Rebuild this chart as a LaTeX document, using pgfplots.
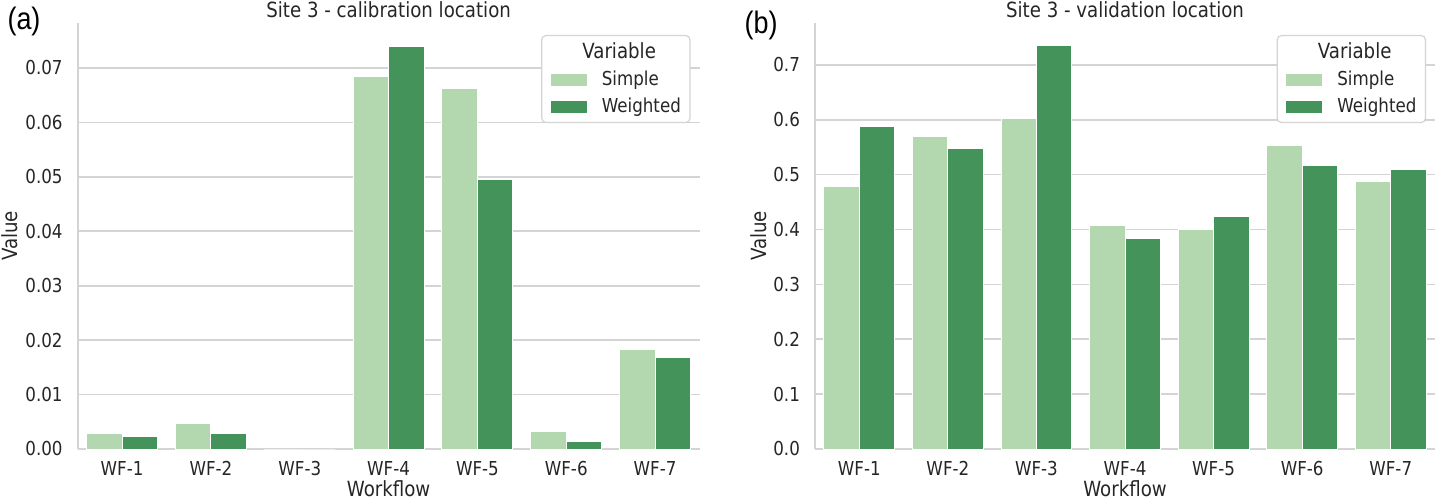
\documentclass[border=0pt]{standalone}
\usepackage{pgfplots}
\pgfplotsset{compat=1.18}
\usepackage{fontspec}
\setmainfont{DejaVu Sans}[FakeStretch=0.87]
\newfontfamily\panelfont{Liberation Sans}[FakeStretch=0.87]
\definecolor{lightg}{HTML}{B3D8B0}
\definecolor{darkg}{HTML}{43935A}
\definecolor{gridc}{HTML}{D4D4D4}
\definecolor{txt}{HTML}{262626}
\newcommand{\tfont}{\fontsize{9.6}{11.5}\selectfont}
\newcommand{\lfont}{\fontsize{10.45}{12.5}\selectfont}

\pgfplotsset{
 layers/mylayers/.define layer set={axis background,axis grid,main,axis ticks,axis lines,axis tick labels,axis descriptions,axis foreground}{},
 mystyle/.style={
  set layers=mylayers,
  scale only axis, height=213pt,
  xmin=-0.5, xmax=6.5, ymin=0,
  xtick={0,1,2,3,4,5,6},
  xticklabels={WF-1,WF-2,WF-3,WF-4,WF-5,WF-6,WF-7},
  axis x line*=bottom, axis y line*=left,
  axis line style={draw=gridc, line width=0.8pt, -},
  major tick length=0pt,
  ymajorgrids, grid style={draw=gridc, line width=0.8pt},
  tick label style={font=\tfont, text=txt},
  /pgf/number format/assume math mode=true,
  scaled y ticks=false,
  xticklabel style={anchor=base, yshift=-13pt, inner sep=0pt},
  yticklabel style={anchor=east, xshift=-7.35pt, inner sep=0pt},
  xlabel={Workflow}, ylabel={Value},
  xlabel style={at={(axis description cs:0.5,0)}, anchor=base, yshift=-23.5pt, font=\lfont, text=txt, inner sep=0pt},
  every axis title shift=0pt,
  title style={at={(axis description cs:0.5,1)}, anchor=base, yshift=2.5pt, font=\lfont, text=txt, inner sep=0pt},
  legend style={at={(axis description cs:1,1)}, anchor=north east, xshift=-4.5pt, yshift=-6pt,
    draw=gridc, line width=0.6pt, rounded corners=2pt, fill=white,
    font=\tfont, text=txt, inner xsep=4.5pt, inner ysep=3.5pt,
    row sep=4.7pt, nodes={inner sep=0pt},
    /tikz/every odd column/.append style={column sep=7.5pt}},
  legend cell align=left,
  legend image code/.code={\fill[##1, draw=none, sharp corners] (0pt,-3pt) rectangle (18pt,3pt);},
 },
 simplebar/.style={ybar, bar width=0.4, bar shift=-0.2, fill=lightg, draw=white, line width=0.5pt},
 weightbar/.style={ybar, bar width=0.4, bar shift=0.2, fill=darkg, draw=white, line width=0.5pt},
}

\begin{document}
\begin{tikzpicture}

\begin{axis}[mystyle, at={(38.85pt,25pt)}, anchor=south west, width=310.9pt,
  ymax=0.07827, ytick={0,0.01,0.02,0.03,0.04,0.05,0.06,0.07},
  yticklabel style={/pgf/number format/.cd, fixed, fixed zerofill, precision=2},
  ylabel style={at={([xshift=-34.1pt]axis description cs:0,0.5)}, anchor=center, font=\lfont, text=txt, inner sep=0pt},
  title={Site 3 - calibration location}]
\addlegendimage{empty legend}
\addlegendentry{\makebox[0pt][l]{\hspace{-10.25pt}\lfont Variable\rule[-2.4pt]{0pt}{2.4pt}}}
\addplot[simplebar] coordinates {(0,0.0028) (1,0.0046) (2,0) (3,0.0685) (4,0.0662) (5,0.0033) (6,0.0183)};
\addlegendentry{Simple}
\addplot[weightbar] coordinates {(0,0.0023) (1,0.0029) (2,0) (3,0.0740) (4,0.0496) (5,0.0013) (6,0.0169)};
\addlegendentry{Weighted}
\end{axis}

\begin{axis}[mystyle, at={(407.5pt,25pt)}, anchor=south west, width=310pt,
  ymax=0.7765, ytick={0,0.1,0.2,0.3,0.4,0.5,0.6,0.7},
  yticklabel style={/pgf/number format/.cd, fixed, fixed zerofill, precision=1},
  ylabel style={at={([xshift=-28pt]axis description cs:0,0.5)}, anchor=center, font=\lfont, text=txt, inner sep=0pt},
  title={Site 3 - validation location}]
\addlegendimage{empty legend}
\addlegendentry{\makebox[0pt][l]{\hspace{-10.25pt}\lfont Variable\rule[-2.4pt]{0pt}{2.4pt}}}
\addplot[simplebar] coordinates {(0,0.478) (1,0.569) (2,0.602) (3,0.407) (4,0.401) (5,0.553) (6,0.488)};
\addlegendentry{Simple}
\addplot[weightbar] coordinates {(0,0.588) (1,0.547) (2,0.735) (3,0.383) (4,0.423) (5,0.517) (6,0.509)};
\addlegendentry{Weighted}
\end{axis}

\node[font=\panelfont\fontsize{15.5}{18}\selectfont, anchor=center, inner sep=0pt] at (12pt,239pt) {(a)};
\node[font=\panelfont\fontsize{15.5}{18}\selectfont, anchor=center, inner sep=0pt] at (380.5pt,237pt) {(b)};
\pgfresetboundingbox
\useasboundingbox (0,0) rectangle (719pt,249.5pt);
\end{tikzpicture}
\end{document}
